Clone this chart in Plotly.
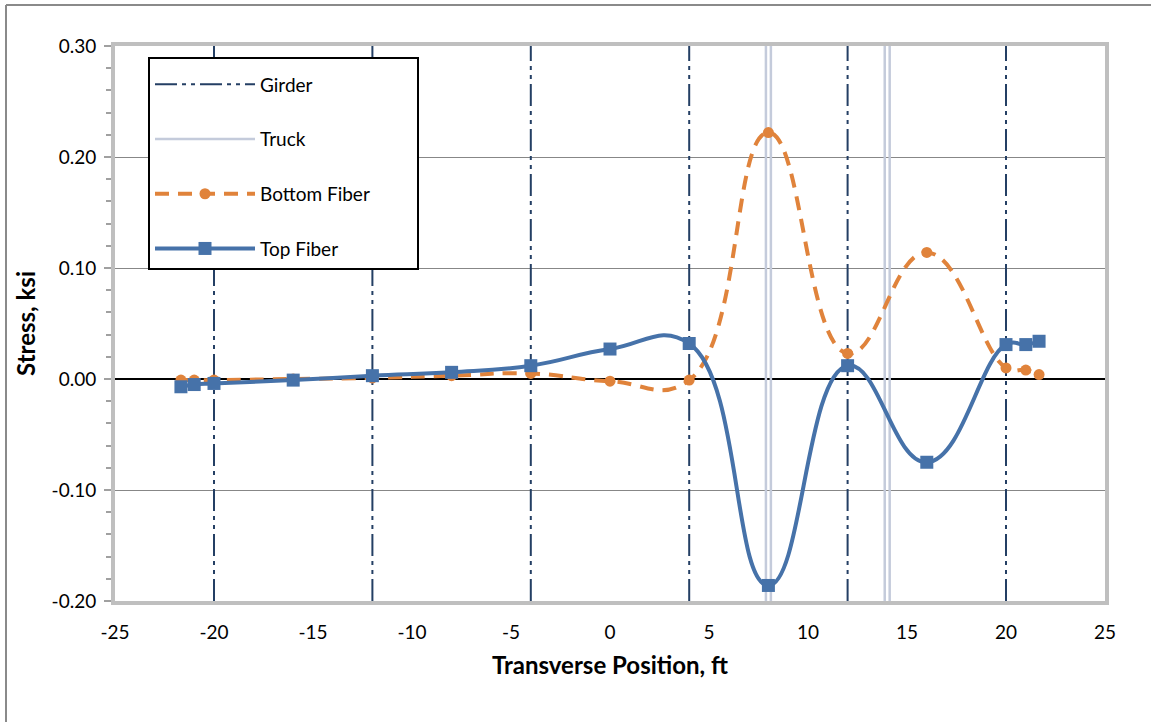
import plotly.graph_objects as go

# ---- data ----
positions = [-21.67, -21, -20, -16, -12, -8, -4, 0, 4, 8, 12, 16, 20, 21, 21.67]
top_fiber = [-0.007, -0.005, -0.004, -0.001, 0.003, 0.006, 0.012, 0.027, 0.032,
             -0.186, 0.012, -0.075, 0.031, 0.031, 0.034]
bottom_fiber = [-0.001, -0.001, -0.001, 0.000, 0.001, 0.003, 0.005, -0.002, -0.001,
                0.222, 0.023, 0.114, 0.010, 0.008, 0.004]
girders = [-20, -12, -4, 4, 12, 20]
trucks = [7.875, 8.125, 13.875, 14.125]
y_limits = [-0.20, 0.30]
x_ticks = [-25, -20, -15, -10, -5, 0, 5, 10, 15, 20, 25]
x_tick_labels = ["-25", "-20", "-15", "-10", "-5", "0", "5", "10", "15", "20", "25"]
y_ticks = [-0.2, -0.1, 0.0, 0.1, 0.2, 0.3]
y_tick_labels = ["-0.20", "-0.10", "0.00", "0.10", "0.20", "0.30"]

FONT = "Lato"

def vlines(xs, lo, hi):
    vx, vy = [], []
    for v in xs:
        vx += [v, v, None]
        vy += [lo, hi, None]
    return vx, vy

fig = go.Figure()

gx, gy = vlines(girders, y_limits[0], y_limits[1])
fig.add_trace(go.Scatter(
    x=gx, y=gy, mode="lines", name="Girder", legendgroup="g",
    line=dict(color="#243f64", width=2, dash="22px,5px,4px,5px,4px,5px"),
))

tx, ty = vlines(trucks, y_limits[0], y_limits[1])
fig.add_trace(go.Scatter(
    x=tx, y=ty, mode="lines", name="Truck", legendgroup="t",
    line=dict(color="#c4cbdb", width=2.5),
))

fig.add_trace(go.Scatter(
    x=positions, y=bottom_fiber, mode="lines+markers", name="Bottom Fiber",
    legendgroup="b",
    line=dict(color="#e0833b", width=4, dash="14px,9px", shape="spline", smoothing=1.3),
    marker=dict(symbol="circle", size=11, color="#e0833b"),
))

fig.add_trace(go.Scatter(
    x=positions, y=top_fiber, mode="lines+markers", name="Top Fiber",
    legendgroup="tp",
    line=dict(color="#4672a9", width=4, shape="spline", smoothing=1.3),
    marker=dict(symbol="square", size=13, color="#4672a9"),
))

# outer chart frame (top and left edges visible)
L, R, T, B = 115, 46, 46, 121
W, H = 1151, 722
pw, ph = W - L - R, H - T - B
fx = (6 - L) / pw
fy = 1 + (T - 5) / ph
fig.add_shape(type="line", xref="paper", yref="paper", x0=fx, x1=1 + (R + 5) / pw,
              y0=fy, y1=fy, line=dict(color="#8a8a8a", width=2), layer="below")
fig.add_shape(type="line", xref="paper", yref="paper", x0=fx, x1=fx,
              y0=fy, y1=-(B + 5) / ph, line=dict(color="#8a8a8a", width=2), layer="below")

fig.update_layout(
    width=W, height=H,
    margin=dict(l=L, r=R, t=T, b=B, autoexpand=False),
    paper_bgcolor="white", plot_bgcolor="white",
    font=dict(family=FONT, size=19, color="black"),
    showlegend=True,
    legend=dict(
        x=(148 - L) / pw, y=1 - (57 - T) / ph, xanchor="left", yanchor="top",
        bgcolor="white", bordercolor="black", borderwidth=2,
        font=dict(family=FONT, size=19, color="black"),
        tracegroupgap=27, itemwidth=100,
        traceorder="grouped",
        title=dict(text="\u00a0" * 205, font=dict(family=FONT, size=5)),
    ),
    xaxis=dict(
        range=[-25, 25], tickmode="array", tickvals=x_ticks, ticktext=x_tick_labels,
        showgrid=False, zeroline=False,
        showline=True, linecolor="#bfbfbf", linewidth=4, mirror=True,
        ticks="", automargin=False, ticklabelstandoff=11,
        tickfont=dict(family=FONT, size=19),
        title=dict(text="<b>Transverse Position, ft</b>", font=dict(family=FONT, size=24),
                   standoff=16),
    ),
    yaxis=dict(
        range=y_limits, tickmode="array", tickvals=y_ticks, ticktext=y_tick_labels,
        showgrid=True, gridcolor="#878787", gridwidth=1,
        zeroline=True, zerolinecolor="black", zerolinewidth=2,
        showline=True, linecolor="#bfbfbf", linewidth=4, mirror=True,
        ticks="outside", ticklen=7, tickcolor="#a0a0a0", tickwidth=2,
        minor=dict(dtick=0.02, tick0=0, ticks="outside", ticklen=5, tickcolor="#a0a0a0",
                   tickwidth=2, showgrid=False),
        automargin=False, ticklabelstandoff=4,
        tickfont=dict(family=FONT, size=19),
        title=dict(text="<b>Stress, ksi</b>", font=dict(family=FONT, size=24), standoff=10),
    ),
)

fig.write_html("out.html")
